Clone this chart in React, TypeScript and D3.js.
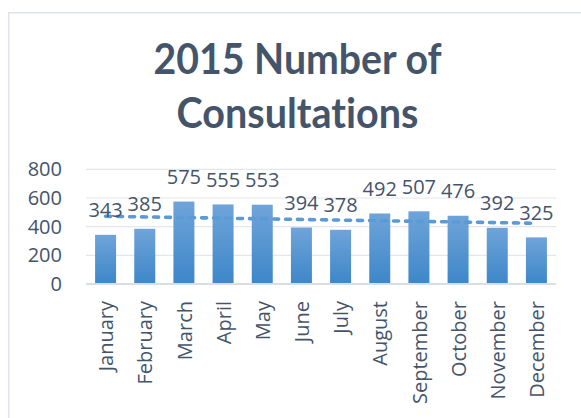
import React from "react";
import * as d3 from "d3";

const months = ["January","February","March","April","May","June","July","August","September","October","November","December"];
const consultations = [343, 385, 575, 555, 553, 394, 378, 492, 507, 476, 392, 325];
const yTicks = [0, 200, 400, 600, 800];
const titleLines = ["2015 Number of", "Consultations"];

const W = 581, H = 418;
const plotLeft = 86, plotRight = 556, plotTop = 169.3, plotBottom = 284;
const textColor = "#44546a";

export default function App() {
  const x = d3.scaleBand<string>().domain(months).range([plotLeft, plotRight]).paddingInner(0.464).paddingOuter(0.232);
  const y = d3.scaleLinear().domain([0, 800]).range([plotBottom, plotTop]);
  const cx = (m: string) => (x(m) as number) + x.bandwidth() / 2;

  // linear trendline (least squares on index)
  const n = consultations.length;
  const idx = consultations.map((_, i) => i + 1);
  const mx = d3.mean(idx) as number;
  const my = d3.mean(consultations) as number;
  const sxy = d3.sum(consultations.map((v, i) => (idx[i] - mx) * (v - my)));
  const sxx = d3.sum(idx.map((v) => (v - mx) * (v - mx)));
  const slope = sxy / sxx;
  const intercept = my - slope * mx;
  const trendPts: [number, number][] = [
    [cx(months[0]), y(intercept + slope * 1)],
    [cx(months[n - 1]), y(intercept + slope * n)],
  ];
  const line = d3.line();

  return (
    <svg width={W} height={H} style={{ position: "absolute", left: 0, top: 0, background: "#fff" }}>
      <defs>
        <linearGradient id="barGrad" x1="0" y1="0" x2="0" y2="1">
          <stop offset="0" stopColor="#6fa4d9" />
          <stop offset="1" stopColor="#3e87c9" />
        </linearGradient>
      </defs>
      <rect x={8.75} y={12.75} width={600} height={430} fill="#fff" stroke="#dfe4ea" strokeWidth={1.5} />
      {titleLines.map((t, i) => (
        <text key={t} x={297.5} y={74.3 + i * 53.4} textAnchor="middle" fontFamily="Lato, 'Open Sans', sans-serif"
          fontWeight={700} fontSize={42} fill={textColor} textLength={i === 0 ? 288 : 242} lengthAdjust="spacingAndGlyphs"
          style={{ fontVariantLigatures: "none" }}>{t}</text>
      ))}
      {yTicks.map((t) => (
        <g key={t}>
          <line x1={plotLeft} x2={plotRight} y1={y(t)} y2={y(t)} stroke={t === 0 ? "#d9dee5" : "#e3e6ea"} strokeWidth={t === 0 ? 2 : 1.2} />
          <text x={62} y={y(t)} dy="0.35em" textAnchor="end" fontFamily="'Open Sans', sans-serif" fontSize={20} fill={textColor}>{t}</text>
        </g>
      ))}
      {months.map((m, i) => (
        <rect key={m} x={x(m)} y={y(consultations[i])} width={x.bandwidth()} height={plotBottom - y(consultations[i]) - 1} fill="url(#barGrad)" />
      ))}
      <path d={line(trendPts) || ""} fill="none" stroke="#5b9bd5" strokeWidth={3.6} strokeDasharray="5 7" strokeLinecap="round" />
      {months.map((m, i) => (
        <text key={m} x={cx(m)} y={y(consultations[i]) - 17.5} textAnchor="middle" fontFamily="'Open Sans', sans-serif" fontSize={20} fill={textColor}>{consultations[i]}</text>
      ))}
      {months.map((m) => (
        <text key={m} transform={`translate(${cx(m)},301) rotate(-90)`} dy="0.38em" textAnchor="end" fontFamily="'Open Sans', sans-serif" fontSize={20} fill={textColor}>{m}</text>
      ))}
    </svg>
  );
}
